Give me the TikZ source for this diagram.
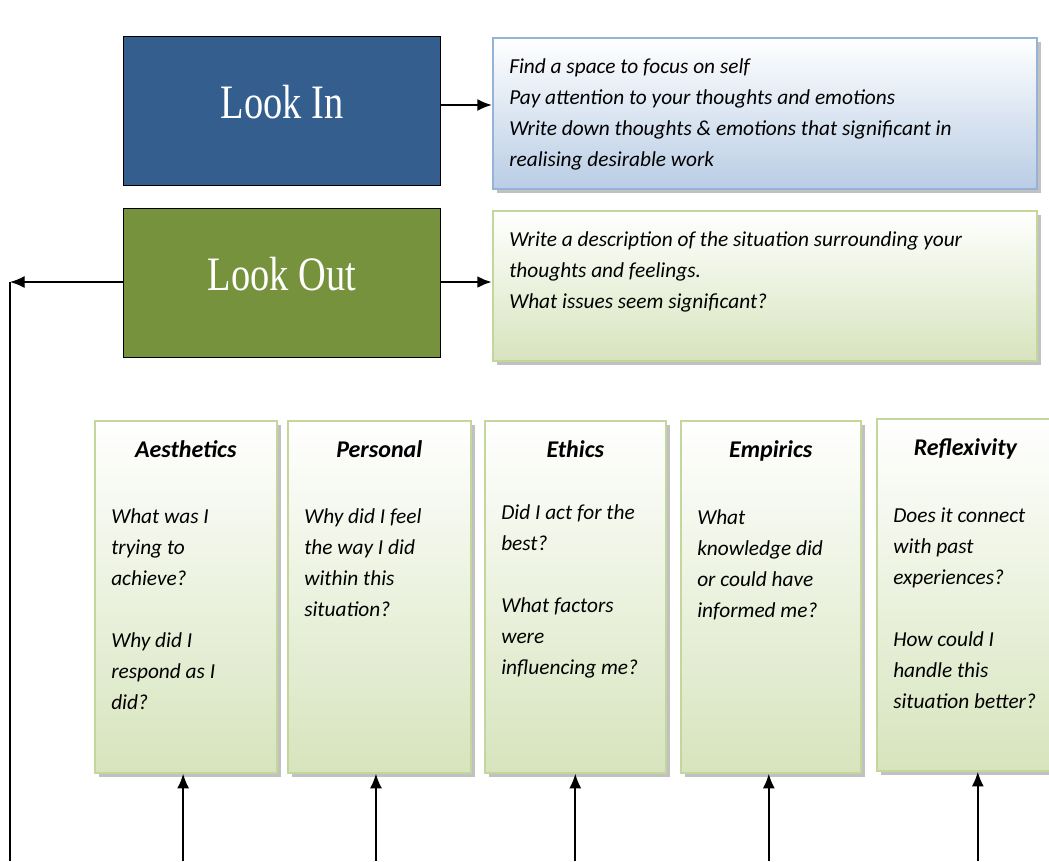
\documentclass[tikz,border=0pt]{standalone}
\usepackage{fontspec}
\setmainfont{Carlito}
\newfontfamily\headfont{Liberation Serif}
\usetikzlibrary{positioning,shadows,arrows.meta}

\definecolor{lookblue}{RGB}{52,94,142}
\definecolor{lookgreen}{RGB}{119,146,60}
\definecolor{noteblue}{RGB}{185,205,229}
\definecolor{noteblueline}{RGB}{149,179,215}
\definecolor{notegreen}{RGB}{215,228,189}
\definecolor{notegreenline}{RGB}{195,214,155}

\newcommand{\lookname}[1]{\scalebox{0.8}[1]{\headfont\fontsize{36}{40}\selectfont #1}}

\begin{document}
\begin{tikzpicture}[
    x=0.75pt, y=-0.75pt,
    >={Latex[length=11pt, width=9pt]},
    lookbox/.style={draw=black, thick, anchor=north west, text=white, text depth=14pt, minimum width=237.75pt, minimum height=111.75pt},
    notebox/.style={draw, line width=1.2pt, anchor=north west, inner sep=0pt,
      drop shadow={shadow xshift=3pt, shadow yshift=-3pt, fill=black!30, opacity=0.8}},
    bluenote/.style={notebox, draw=noteblueline, top color=white, bottom color=noteblue, minimum width=408pt, minimum height=113.25pt},
    greennote/.style={notebox, draw=notegreenline, top color=white, bottom color=notegreen, minimum width=408pt, minimum height=112.5pt},
    qbox/.style={notebox, draw=notegreenline, top color=white, bottom color=notegreen, minimum height=264pt},
    notetext/.style={align=left, inner sep=0pt, font=\fontsize{16}{23.25}\selectfont\itshape},
    qtitle/.style={inner sep=0pt, font=\fontsize{18}{22}\selectfont\bfseries\itshape},
  ]
  \clip (0,0) rectangle (1049,861);
  \useasboundingbox (0,0) rectangle (1049,861);

  % look in / look out
  \node[lookbox, fill=lookblue] (lookin) at (123,36) {\lookname{Look In}};
  \node[lookbox, fill=lookgreen] (lookout) at (123,208) {\lookname{Look Out}};

  \node[bluenote] (innote) at (492,37) {};
  \node[notetext] (intext) [below right=16pt and 12.75pt of innote.north west]
    {Find a space to focus on self\\
     Pay attention to your thoughts and emotions\\
     Write down thoughts \& emotions that significant in\\
     realising desirable work};

  \node[greennote] (outnote) at (492,210) {};
  \node[notetext] (outtext) [below right=16pt and 12.75pt of outnote.north west]
    {Write a description of the situation surrounding your\\
     thoughts and feelings.\\
     What issues seem significant?};

  % question boxes
  \node[qbox, minimum width=136.5pt] (aes) at (94,420) {};
  \node[qbox, minimum width=137.25pt] (per) at (287,420) {};
  \node[qbox, minimum width=135.75pt] (eth) at (484,420) {};
  \node[qbox, minimum width=135pt] (emp) at (680,420) {};
  \node[qbox, minimum width=151.5pt] (ref) at (876,418) {};

  \node[qtitle] (aestitle) [below=15pt of aes.north] {Aesthetics};
  \node[qtitle] (pertitle) [below=15pt of per.north] {Personal};
  \node[qtitle] (ethtitle) [below=15pt of eth.north] {Ethics};
  \node[qtitle] (emptitle) [below=15pt of emp.north] {Empirics};
  \node[qtitle] (reftitle) [below=15pt of ref.north west, xshift=67pt] {Reflexivity};

  \node[notetext] (aestext) [below right=66pt and 12.75pt of aes.north west]
    {What was I\\ trying to\\ achieve?\\[23.25pt] Why did I\\ respond as I\\ did?};
  \node[notetext] (pertext) [below right=66pt and 12.75pt of per.north west]
    {Why did I feel\\ the way I did\\ within this\\ situation?};
  \node[notetext] (ethtext) [below right=63pt and 12.75pt of eth.north west]
    {Did I act for the\\ best?\\[23.25pt] What factors\\ were\\ influencing me?};
  \node[notetext] (emptext) [below right=67pt and 12.75pt of emp.north west]
    {What\\ knowledge did\\ or could have\\ informed me?};
  \node[notetext] (reftext) [below right=67pt and 12.75pt of ref.north west]
    {Does it connect\\ with past\\ experiences?\\[23.25pt] How could I\\ handle this\\ situation better?};

  % arrows
  \coordinate (base) at (0,861);
  \coordinate (turn) at (10,282);
  \draw[->, line width=1.5pt] (lookin.east |- 0,105) -- (innote.west |- 0,105);
  \draw[->, line width=2.2pt] (lookout.east |- 0,282) -- (outnote.west |- 0,282);
  \draw[->, line width=1pt] (lookout.west |- turn) -- (turn);
  \draw[line width=1pt] (turn) -- (turn |- base);

  \draw[->, line width=1.5pt] ([xshift=-2pt]aes.south |- base) -- ([xshift=-2pt]aes.south);
  \draw[->, line width=1.5pt] ([xshift=-2.5pt]per.south |- base) -- ([xshift=-2.5pt]per.south);
  \draw[->, line width=1.5pt] (eth.south |- base) -- (eth.south);
  \draw[->, line width=1.5pt] ([xshift=-1.5pt]emp.south |- base) -- ([xshift=-1.5pt]emp.south);
  \draw[->, line width=1.5pt] (ref.south |- base) -- (ref.south);
\end{tikzpicture}
\end{document}
